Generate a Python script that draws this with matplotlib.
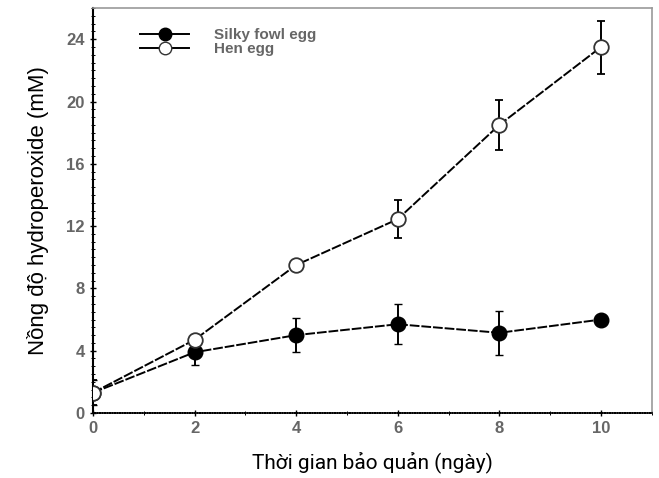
import matplotlib
matplotlib.use("Agg")
import matplotlib.pyplot as plt
from matplotlib.lines import Line2D
from matplotlib.ticker import MultipleLocator

# storage time (days) and hydroperoxide concentration (mM)
days = [0, 2, 4, 6, 8, 10]
silky = [1.3, 3.9, 5.0, 5.7, 5.15, 6.0]
silky_err = [0.8, 0.8, 1.1, 1.3, 1.4, 0.2]
hen = [1.3, 4.7, 9.5, 12.45, 18.5, 23.5]
hen_err = [0.8, 0.3, 0.3, 1.2, 1.6, 1.7]

fig = plt.figure(figsize=(6.59, 4.78), dpi=100)
ax = fig.add_axes([0.141, 0.136, 0.848, 0.847])

ax.errorbar(days, silky, yerr=silky_err, color='black', marker='o', ms=10.5,
            mfc='black', mec='black', lw=1.4, ls=(0, (5, 1)),
            capsize=3, elinewidth=1.4, zorder=3)
ax.errorbar(days, hen, yerr=hen_err, color='black', marker='o', ms=10.5,
            mfc='white', mec='#333333', mew=1.3, lw=1.4, ls=(0, (5, 1)),
            capsize=3, elinewidth=1.4, zorder=3)

ax.set_xlim(0, 11)
ax.set_ylim(0, 26)
ax.xaxis.set_major_locator(MultipleLocator(2))
ax.xaxis.set_minor_locator(MultipleLocator(1))
ax.yaxis.set_major_locator(MultipleLocator(4))
ax.yaxis.set_minor_locator(MultipleLocator(0.5))
ax.tick_params(which='major', direction='inout', length=5, width=1,
               labelsize=12, labelcolor='#666666')
ax.tick_params(which='minor', direction='inout', length=3, width=0.7)
for lab in ax.get_xticklabels() + ax.get_yticklabels():
    lab.set_family('Liberation Sans')
    lab.set_weight('bold')

for side in ['top', 'right']:
    ax.spines[side].set_color('#999999')
    ax.spines[side].set_linewidth(1.2)
ax.spines['left'].set_linewidth(1.5)
ax.spines['bottom'].set_linewidth(1.2)
ax.spines['bottom'].set_linestyle((0, (1, 0.5)))

ax.set_xlabel('Thời gian bảo quản (ngày)', fontsize=15, family='Roboto',
              labelpad=11)
ax.set_ylabel('Nồng độ hydroperoxide (mM)', fontsize=16, family='Liberation Sans',
              labelpad=12)

handles = [
    Line2D([], [], color='black', lw=1.4, marker='o', ms=9, mfc='black'),
    Line2D([], [], color='black', lw=1.4, marker='o', ms=9, mfc='white',
           mec='#333333'),
]
leg = ax.legend(handles, ['Silky fowl egg', 'Hen egg'], loc='upper left',
                bbox_to_anchor=(0.06, 0.985), frameon=False,
                handlelength=3.2, labelspacing=0.0, handletextpad=1.6,
                prop={'family': 'Liberation Sans', 'size': 11, 'weight': 'bold'})
for t in leg.get_texts():
    t.set_color('#666666')

fig.savefig('out.png', dpi=100)
